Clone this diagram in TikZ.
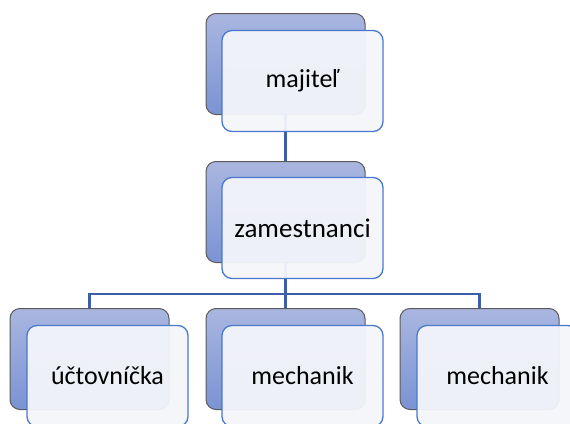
\documentclass[tikz,border=0pt]{standalone}
\usepackage{fontspec}
\setmainfont{Carlito}
\definecolor{backtop}{HTML}{A9B6DF}
\definecolor{backbot}{HTML}{7B93D4}
\definecolor{backline}{HTML}{5A5A5A}
\definecolor{frontline}{HTML}{4A78CC}
\definecolor{frontfill}{HTML}{F4F5FA}
\definecolor{conn}{HTML}{3E5EA9}
\tikzset{
  backbox/.style={rounded corners=10pt, draw=backline, line width=1pt,
    top color=backtop, bottom color=backbot, minimum width=159pt, minimum height=101pt, inner sep=0pt},
  frontbox/.style={rounded corners=10pt, draw=frontline, line width=1.3pt,
    fill=frontfill, fill opacity=0.95, text opacity=1, minimum width=161pt, minimum height=101pt,
    inner sep=0pt, font=\fontsize{26}{30}\selectfont, text=black},
  connector/.style={draw=conn, line width=2.5pt}
}
\begin{document}
\begin{tikzpicture}[x=1pt,y=-1pt]
\useasboundingbox (0,0) rectangle (570,423);
\clip (0,0) rectangle (570,423);
% back boxes
\node[backbox] (b0) at (285.5,64) {};
\node[backbox] (b1) at (285.5,212) {};
\node[backbox] (b2) at (89.5,359) {};
\node[backbox] (b3) at (285.5,359) {};
\node[backbox] (b4) at (479.5,359) {};
% connectors
\coordinate (bus) at (0,294);
\draw[connector] (b0.south) -- (b1.north);
\draw[connector] (b1.south) -- (b1.south |- bus);
\draw[connector] (b1.south |- bus) -| (b2.north);
\draw[connector] (b1.south |- bus) -- (b3.north);
\draw[connector] (b1.south |- bus) -| (b4.north);
% front boxes
\node[frontbox] (f0) at (302.5,81) {majiteľ};
\node[frontbox, font=\fontsize{27}{31}\selectfont] (f1) at (302.5,228) {zamestnanci};
\node[frontbox] (f2) at (107.5,376) {účtovníčka};
\node[frontbox] (f3) at (302.5,376) {mechanik};
\node[frontbox] (f4) at (497.5,376) {mechanik};
\end{tikzpicture}
\end{document}
